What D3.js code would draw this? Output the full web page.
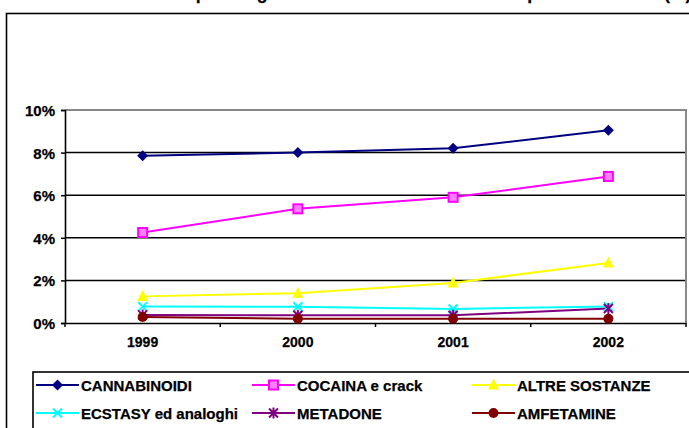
<!DOCTYPE html>
<html><head><meta charset="utf-8">
<script src="https://cdn.jsdelivr.net/npm/d3@7"></script>
<style>body{margin:0;background:#fff}svg{display:block}text{font-family:"Liberation Sans",Arial,sans-serif !important;font-weight:700 !important;fill:#000;stroke:#000;stroke-width:0.25px}</style>
</head><body><svg id="c" width="689" height="428"></svg>
<script>
const titleText = "Utenti in trattamento per droga d'abuso secondaria nei SerT per anno solare (%)";
const years = ["1999","2000","2001","2002"];
const yTicks = [0,0.02,0.04,0.06,0.08,0.10];
const seriesNames = ["CANNABINOIDI","COCAINA e crack","ALTRE SOSTANZE","ECSTASY ed analoghi","METADONE","AMFETAMINE"];
const cannabinoidi = [0.0785,0.080,0.082,0.0905];
const cocaina = [0.0425,0.0536,0.059,0.0688];
const altre = [0.0125,0.014,0.0188,0.0282];
const ecstasy = [0.0077,0.0076,0.0066,0.0077];
const metadone = [0.0038,0.0036,0.0036,0.0068];
const amfetamine = [0.0028,0.0020,0.0020,0.0020];
const colors = ["#000080","#FF00FF","#FFFF00","#00FFFF","#800080","#800000"];
const markers = ["diamond","square","triangle","x","star","circle"];
const allValues = [cannabinoidi,cocaina,altre,ecstasy,metadone,amfetamine];

const svg = d3.select("#c");
svg.append("rect").attr("x",6.5).attr("y",13.5).attr("width",720).attr("height",440)
  .attr("fill","none").attr("stroke","#000").attr("stroke-width",1.6);
svg.append("text").attr("x",18).attr("y",-1.5).attr("font-size",17.7).text(titleText);

const x = d3.scaleBand().domain(years).range([65,686]);
const y = d3.scaleLinear().domain([0,0.10]).range([323,110]);

svg.append("g").selectAll("line").data(yTicks.filter(d=>d>0&&d<0.1)).join("line")
  .attr("x1",65).attr("x2",686).attr("y1",d=>y(d)).attr("y2",d=>y(d))
  .attr("stroke","#000").attr("stroke-width",1.5);
svg.append("path").attr("d",`M65,${y(0.1)}H686V${y(0)}`).attr("fill","none").attr("stroke","#888").attr("stroke-width",2);

const yAxis = svg.append("g").attr("transform","translate(65,0)")
  .call(d3.axisLeft(y).tickValues(yTicks).tickFormat(d3.format(".0%")).tickSize(4).tickPadding(6));
yAxis.select(".domain").attr("stroke","#000").attr("stroke-width",1.6);
yAxis.selectAll(".tick line").attr("stroke","#000").attr("stroke-width",1.5);
yAxis.selectAll("text").attr("font-size",15).attr("dy","0.36em");

const xAxis = svg.append("g").attr("transform",`translate(0,${y(0)})`)
  .call(d3.axisBottom(x).tickSize(0).tickPadding(14));
xAxis.select(".domain").attr("stroke","#000").attr("stroke-width",1.6);
xAxis.selectAll("text").attr("font-size",14);
const bounds = years.map(d=>x(d)).concat([x.range()[1]]);
svg.append("g").selectAll("line").data(bounds).join("line")
  .attr("x1",d=>d).attr("x2",d=>d).attr("y1",y(0)).attr("y2",y(0)+4)
  .attr("stroke","#000").attr("stroke-width",1.5);

function drawMarker(g, type, color){
  const s = 5.5;
  if(type==="diamond") g.append("path").attr("d",`M0,${-s}L${s},0L0,${s}L${-s},0Z`).attr("fill",color);
  else if(type==="square") g.append("rect").attr("x",-4.5).attr("y",-4.5).attr("width",9).attr("height",9).attr("fill","#FF80FF").attr("stroke",color).attr("stroke-width",2);
  else if(type==="triangle") g.append("path").attr("d",`M0,-6.5L5.5,4.5L-5.5,4.5Z`).attr("fill",color);
  else if(type==="x") g.append("path").attr("d",`M-4.5,-4.5L4.5,4.5M4.5,-4.5L-4.5,4.5`).attr("stroke",color).attr("stroke-width",2);
  else if(type==="star") g.append("path").attr("d",`M-4.5,-4.5L4.5,4.5M4.5,-4.5L-4.5,4.5M0,-5.5V5.5`).attr("stroke",color).attr("stroke-width",2);
  else if(type==="circle") g.append("circle").attr("r",5).attr("fill",color);
}

const cx = d=>x(d)+x.bandwidth()/2;
const line = d3.line().x((d,i)=>cx(years[i])).y(d=>y(d));
allValues.forEach((vals,k)=>{
  svg.append("path").datum(vals).attr("d",line).attr("fill","none")
    .attr("stroke",colors[k]).attr("stroke-width",2);
});
allValues.forEach((vals,k)=>{
  vals.forEach((v,i)=>{
    const g = svg.append("g").attr("transform",`translate(${cx(years[i])},${y(v)})`);
    drawMarker(g,markers[k],colors[k]);
  });
});

svg.append("rect").attr("x",33).attr("y",372).attr("width",700).attr("height",80)
  .attr("fill","none").attr("stroke","#000").attr("stroke-width",1.6);
const colX = [36,252,472];
const rowY = [385,413];
seriesNames.forEach((n,k)=>{
  const cxl = colX[k%3], cyl = rowY[Math.floor(k/3)];
  svg.append("line").attr("x1",cxl).attr("x2",cxl+43).attr("y1",cyl).attr("y2",cyl)
    .attr("stroke",colors[k]).attr("stroke-width",2);
  const g = svg.append("g").attr("transform",`translate(${cxl+21.5},${cyl})`);
  drawMarker(g,markers[k],colors[k]);
  svg.append("text").attr("x",cxl+45).attr("y",cyl+5.5).attr("font-size",15).text(n);
});
</script></body></html>
